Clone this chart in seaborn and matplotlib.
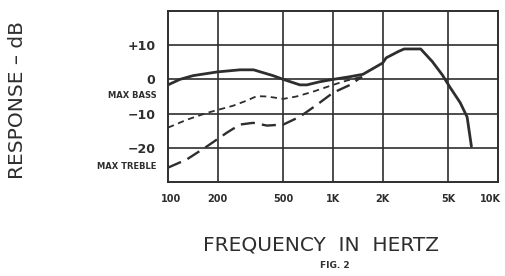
import numpy as np
import pandas as pd
import matplotlib
matplotlib.use("Agg")
import matplotlib.pyplot as plt
import matplotlib.transforms as mtransforms
import seaborn as sns

# Data
flat_freq = [100, 118, 142, 200, 273, 330, 433, 500, 630, 695, 830, 1000, 1270, 1520, 2000, 2100, 2500, 2700, 3400, 4000, 4600, 5100, 5900, 6500, 6900]
flat_db = [-1.6, 0.0, 1.1, 2.2, 2.8, 2.8, 1.1, 0.0, -1.6, -1.6, -0.7, 0.0, 0.8, 1.5, 4.8, 6.3, 8.2, 8.9, 8.9, 5.2, 1.3, -2.2, -6.8, -11.0, -19.6]

bass_freq = [100, 130, 172, 248, 300, 345, 398, 500, 600, 756, 1000, 1200, 1500]
bass_db = [-14.1, -11.8, -9.8, -7.7, -6.2, -4.9, -5.0, -5.7, -5.0, -3.6, -1.6, -0.4, 0.8]

treble_freq = [100, 130, 172, 227, 273, 328, 398, 500, 630, 800, 1000, 1270, 1500]
treble_db = [-25.8, -23.4, -19.6, -15.6, -13.2, -12.7, -13.5, -13.2, -10.9, -7.4, -3.9, -1.6, 0.8]

x_ticks = [100, 200, 500, 1000, 2000, 5000, 10000]
x_tick_labels = ["100", "200", "500", "1K", "2K", "5K", "10K"]
y_ticks = [10, 0, -10, -20]
y_tick_labels = ["+10", "0", "\u221210", "\u221220"]

sns.set_theme(style="white")
plt.rcParams['font.family'] = ['DejaVu Sans']

ink = "#2e2e2e"
fig = plt.figure(figsize=(5.06, 2.76), dpi=100)
ax = fig.add_axes([168/506, 1 - 182/276, 330/506, 171/276])

df_flat = pd.DataFrame({"f": flat_freq, "db": flat_db})
df_bass = pd.DataFrame({"f": bass_freq, "db": bass_db})
df_treble = pd.DataFrame({"f": treble_freq, "db": treble_db})

sns.lineplot(data=df_flat, x="f", y="db", ax=ax, color=ink, linewidth=2.0, sort=False)
sns.lineplot(data=df_bass, x="f", y="db", ax=ax, color=ink, linewidth=1.3, sort=False,
             linestyle=(0, (3.5, 2.5)))
sns.lineplot(data=df_treble, x="f", y="db", ax=ax, color=ink, linewidth=1.7, sort=False,
             linestyle=(0, (6, 3)))

ax.set_xscale("log")
ax.set_xlim(100, 10000)
ax.set_ylim(-30, 20)
ax.set_xticks(x_ticks)
ax.set_xticklabels(x_tick_labels, fontsize=7, fontweight="bold", color=ink)
ax.xaxis.set_minor_locator(matplotlib.ticker.NullLocator())
ax.set_yticks(y_ticks)
ax.set_yticklabels(y_tick_labels, fontsize=9, fontweight="bold", color=ink)
ax.tick_params(axis="both", length=0)
ax.tick_params(axis="y", pad=9)
ax.tick_params(axis="x", pad=9)

# shift the first and last x labels like the reference
xlabels = ax.get_xticklabels()
xlabels[0].set_transform(xlabels[0].get_transform() +
                         mtransforms.ScaledTranslation(3/100, 0, fig.dpi_scale_trans))
xlabels[-1].set_transform(xlabels[-1].get_transform() +
                          mtransforms.ScaledTranslation(-8/100, 0, fig.dpi_scale_trans))

for f in [200, 500, 1000, 2000, 5000]:
    ax.axvline(f, color=ink, linewidth=1.2, zorder=0)
for d in y_ticks:
    ax.axhline(d, color=ink, linewidth=1.2, zorder=0)
for s in ax.spines.values():
    s.set_color(ink)
    s.set_linewidth(1.4)

ax.set_xlabel("")
ax.set_ylabel("")

ax.text(-0.035, -4.7, "MAX BASS", transform=ax.get_yaxis_transform(), ha="right", va="center",
        fontsize=6, fontweight="bold", color=ink)
ax.text(-0.035, -25.4, "MAX TREBLE", transform=ax.get_yaxis_transform(), ha="right", va="center",
        fontsize=6, fontweight="bold", color=ink)

fig.text(18/506, 1 - 100/276, "RESPONSE \u2013 dB", rotation=90, ha="center", va="center",
         fontsize=14.5, color=ink)
fig.text(321/506, 1 - 245/276, "FREQUENCY  IN  HERTZ", ha="center", va="center",
         fontsize=14.5, color=ink)
fig.text(335/506, 1 - 266/276, "FIG. 2", ha="center", va="center",
         fontsize=6.5, fontweight="bold", color=ink)

fig.savefig("out.png", dpi=100, facecolor="white")
